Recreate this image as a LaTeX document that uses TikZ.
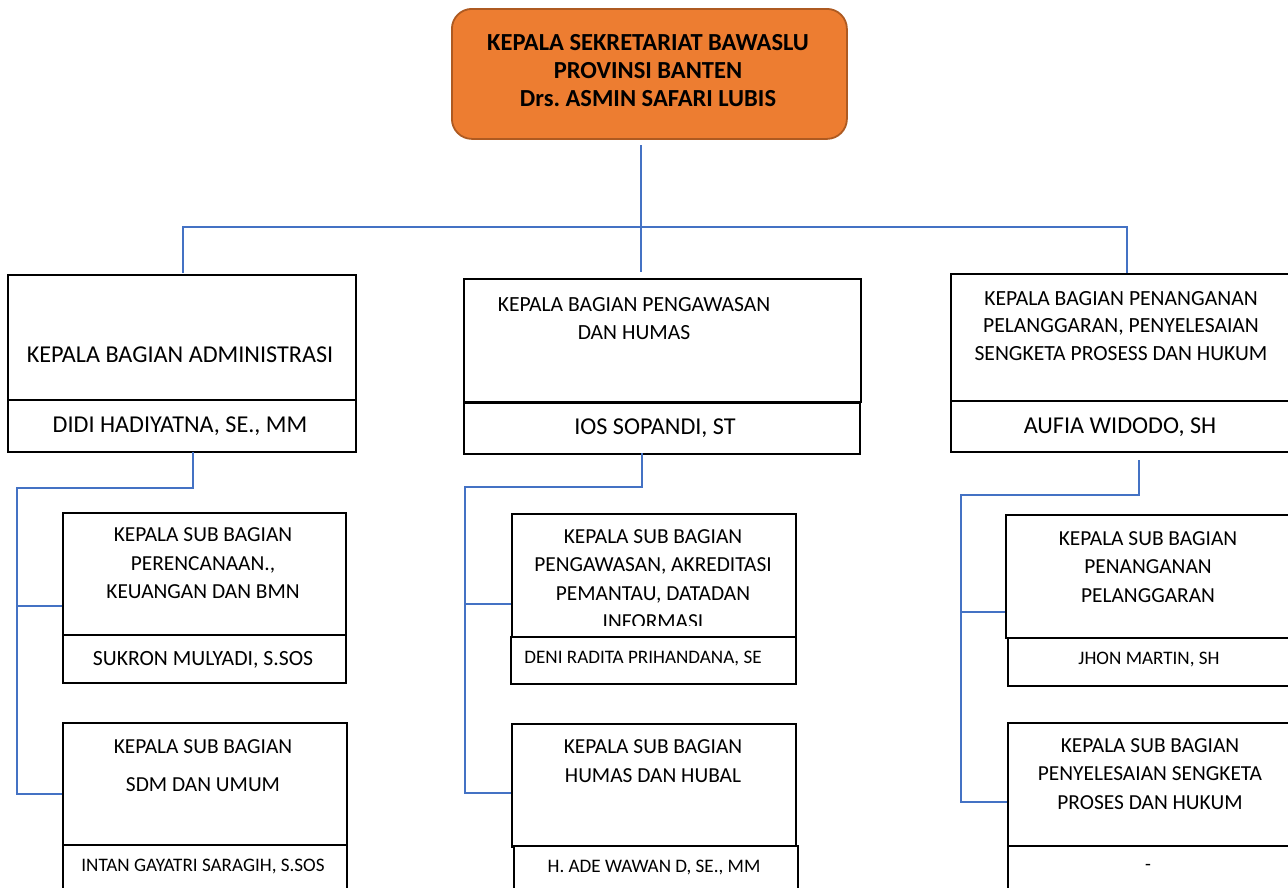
\documentclass[tikz,border=0pt]{standalone}
\usepackage{fontspec}
\setmainfont{Carlito}
\frenchspacing
\definecolor{orng}{HTML}{ED7D31}
\definecolor{orngd}{HTML}{AE5A21}
\definecolor{conblue}{HTML}{4472C4}
\begin{document}
\begin{tikzpicture}[x=1pt,y=-1pt,
  box/.style={draw=black, line width=1.8pt, fill=white, inner sep=0pt, anchor=north west},
  conn/.style={draw=conblue, line width=1.1pt},
  txt/.style={inner sep=0pt, align=center, text=black},
  ftop/.style={font=\fontsize{24.5}{28}\selectfont\bfseries},
  fmainA/.style={font=\fontsize{24.2}{28}\selectfont},
  fmain/.style={font=\fontsize{21.6}{27.5}\selectfont},
  fsub/.style={font=\fontsize{21.4}{28.5}\selectfont},
  fsubn/.style={font=\fontsize{21.7}{28}\selectfont},
  fsmall/.style={font=\fontsize{19.1}{24}\selectfont}]
\useasboundingbox (0,0) rectangle (1288,887);
\fill[white] (0,0) rectangle (1288,887);

% top box
\node[draw=orngd, fill=orng, line width=1.8pt, rounded corners=20pt, minimum width=395pt, minimum height=130pt, anchor=north west] (top) at (451,8) {};
\node[txt, ftop] (toptxt) at (648,71) {KEPALA SEKRETARIAT BAWASLU\\PROVINSI BANTEN\\Drs. ASMIN SAFARI LUBIS};

% connectors level 1
\coordinate (t0) at (641,145);
\coordinate (tc) at (641,272);
\coordinate (hl) at (183,227);
\coordinate (hr) at (1127,227);
\coordinate (hlb) at (183,273);
\coordinate (hrb) at (1127,273);
\draw[conn] (t0) -- (tc);
\draw[conn] (hlb) -- (hl) -- (hr) -- (hrb);

% main boxes
\node[box, minimum width=348pt, minimum height=125pt] (adm) at (7,274) {};
\node[box, minimum width=348pt, minimum height=52pt] (admn) at (7,399) {};
\node[txt, fmainA] (admt) at (180,355) {KEPALA BAGIAN ADMINISTRASI};
\node[txt, fmainA] (admnt) at (180,426) {DIDI HADIYATNA, SE., MM};

\node[box, minimum width=397pt, minimum height=123pt] (peng) at (463,278) {};
\node[box, minimum width=396pt, minimum height=51pt] (pengn) at (463,402) {};
\node[txt, fmain] (pengt) at (634,318.5) {KEPALA BAGIAN PENGAWASAN\\DAN HUMAS};
\node[txt, fmainA] (pengnt) at (655,428) {IOS SOPANDI, ST};

\node[box, minimum width=360pt, minimum height=127pt] (pen) at (950,273) {};
\node[box, minimum width=360pt, minimum height=51pt] (penn) at (950,400) {};
\node[txt, fmain] (pent) at (1121,326) {KEPALA BAGIAN PENANGANAN\\PELANGGARAN, PENYELESAIAN\\SENGKETA PROSESS DAN HUKUM};
\node[txt, fmainA] (pennt) at (1120,427) {AUFIA WIDODO, SH};

% left sub tree
\coordinate (la) at (193,452);
\coordinate (lb) at (193,488);
\coordinate (lc) at (17,488);
\coordinate (ld) at (17,795);
\coordinate (l1) at (17,606);
\coordinate (l2) at (17,794);
\coordinate (l1e) at (62,606);
\coordinate (l2e) at (62,794);
\draw[conn] (la) -- (lb) -- (lc) -- (ld);
\draw[conn] (l1) -- (l1e);
\draw[conn] (l2) -- (l2e);

\node[box, minimum width=283pt, minimum height=122pt] (s1) at (62,512) {};
\node[txt, fsub] (s1t) at (203,563.5) {KEPALA SUB BAGIAN\\PERENCANAAN.,\\KEUANGAN DAN BMN};
\node[box, minimum width=283pt, minimum height=48pt] (s1n) at (62,634) {};
\node[txt, fsubn] (s1nt) at (203,660) {SUKRON MULYADI, S.SOS};

\node[box, minimum width=284pt, minimum height=122pt] (s2) at (62,722) {};
\node[txt, fsub, font=\fontsize{21.4}{38}\selectfont] (s2t) at (203,766) {KEPALA SUB BAGIAN\\SDM DAN UMUM};
\node[box, minimum width=284pt, minimum height=70pt] (s2n) at (62,844) {};
\node[txt, fsmall] (s2nt) at (203,867) {INTAN GAYATRI SARAGIH, S.SOS};

% center sub tree
\coordinate (ca) at (642,453);
\coordinate (cb) at (642,487);
\coordinate (cc) at (465,487);
\coordinate (cd) at (465,793);
\coordinate (c1p) at (465,604);
\coordinate (c1e) at (511,604);
\coordinate (c2e) at (511,793);
\draw[conn] (ca) -- (cb) -- (cc) -- (cd) -- (c2e);
\draw[conn] (c1p) -- (c1e);

\node[box, minimum width=284pt, minimum height=123pt] (c1) at (511,513) {};
\begin{scope}
\clip (511,513) rectangle (795,625);
\node[txt, fsub] (c1t) at (653,579) {KEPALA SUB BAGIAN\\PENGAWASAN, AKREDITASI\\PEMANTAU, DATADAN\\INFORMASI};
\end{scope}
\node[box, minimum width=285pt, minimum height=47pt] (c1n) at (510,636) {};
\node[txt, fsmall] (c1nt) at (643,659) {DENI RADITA PRIHANDANA, SE};

\node[box, minimum width=284pt, minimum height=123pt] (c2) at (511,723) {};
\node[txt, fsub] (c2t) at (653,761) {KEPALA SUB BAGIAN\\HUMAS DAN HUBAL};
\node[box, minimum width=284pt, minimum height=70pt] (c2n) at (513,845) {};
\node[txt, fsmall] (c2nt) at (654,868) {H. ADE WAWAN D, SE., MM};

% right sub tree
\coordinate (ra) at (1139,460);
\coordinate (rb) at (1139,495);
\coordinate (rc) at (961,495);
\coordinate (rd) at (961,802);
\coordinate (r1p) at (961,612);
\coordinate (r1e) at (1007,612);
\coordinate (r2e) at (1007,802);
\draw[conn] (ra) -- (rb) -- (rc) -- (rd) -- (r2e);
\draw[conn] (r1p) -- (r1e);

\node[box, minimum width=310pt, minimum height=123pt] (r1) at (1005,514) {};
\node[txt, fsub] (r1t) at (1148,567) {KEPALA SUB BAGIAN\\PENANGANAN\\PELANGGARAN};
\node[box, minimum width=310pt, minimum height=48pt] (r1n) at (1007,637) {};
\node[txt, fsmall] (r1nt) at (1149,660) {JHON MARTIN, SH};

\node[box, minimum width=310pt, minimum height=123pt] (r2) at (1007,722) {};
\node[txt, fsub] (r2t) at (1150,774) {KEPALA SUB BAGIAN\\PENYELESAIAN SENGKETA\\PROSES DAN HUKUM};
\node[box, minimum width=310pt, minimum height=70pt] (r2n) at (1007,845) {};
\node[txt, fsmall] (r2nt) at (1148,867) {-};
\end{tikzpicture}
\end{document}
